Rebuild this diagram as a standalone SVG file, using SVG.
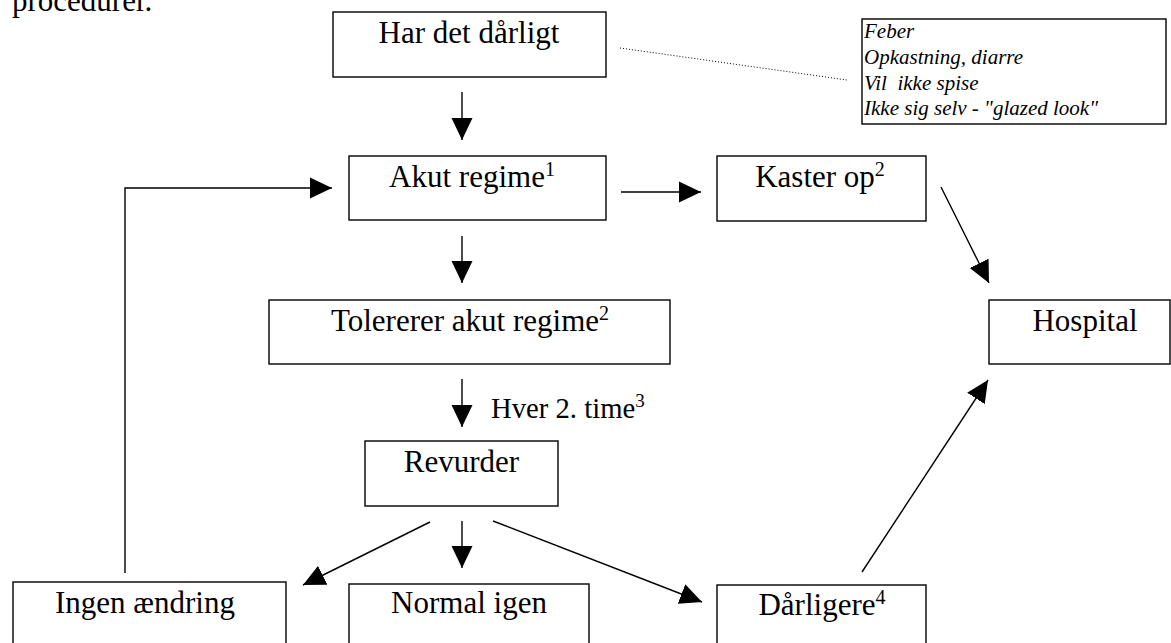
<svg xmlns="http://www.w3.org/2000/svg" width="1171" height="643" viewBox="0 0 1171 643">
<style>
.box{fill:#fff;stroke:#000;stroke-width:1.4}
.t{font-family:"Liberation Serif","Times New Roman",serif;font-size:31px;fill:#000}
.c{text-anchor:middle}
.sup{font-size:20px}
.note{font-family:"Liberation Serif","Times New Roman",serif;font-size:21px;font-style:italic;fill:#000}
.ln{fill:none;stroke:#000;stroke-width:1.4}
.arr{marker-end:url(#ah)}
.dot{fill:none;stroke:#000;stroke-width:1;stroke-dasharray:1 2}
</style>
<defs>
<marker id="ah" markerUnits="userSpaceOnUse" markerWidth="22" markerHeight="22" viewBox="0 0 22 22" refX="22" refY="11" orient="auto">
<path d="M0,0.5 L22,11 L0,21.5 Z" fill="#000"/>
</marker>
</defs>
<rect width="1171" height="643" fill="#fff"/>
<text class="t" x="12" y="11">procedurer.</text>
<g id="connectors">
<line class="ln arr" x1="462" y1="92" x2="462" y2="140"/>
<line class="ln arr" x1="462" y1="236" x2="462" y2="283"/>
<line class="ln arr" x1="462" y1="379" x2="462" y2="427"/>
<line class="ln arr" x1="621" y1="192" x2="701" y2="192"/>
<line class="ln arr" x1="941" y1="187" x2="989" y2="283"/>
<line class="ln arr" x1="430" y1="522" x2="303" y2="585"/>
<line class="ln arr" x1="462" y1="521" x2="462" y2="568"/>
<line class="ln arr" x1="493" y1="521" x2="702" y2="602"/>
<line class="ln arr" x1="862" y1="572" x2="988" y2="380"/>
<polyline class="ln arr" points="125,573 125,188 332,188"/>
<line class="dot" x1="620" y1="48" x2="847" y2="80"/>
<text class="t" x="491" y="418" style="font-size:28.7px">Hver 2. time<tspan class="sup" dy="-11" style="font-size:19px">3</tspan></text>
</g>
<g id="n-har"><rect class="box" x="333" y="12" width="273" height="65"/><text class="t c" x="469" y="43">Har det dårligt</text></g>
<g id="n-note"><rect class="box" x="862" y="19" width="304" height="105"/>
<text class="note" x="864" y="38">Feber</text>
<text class="note" x="864" y="64">Opkastning, diarre</text>
<text class="note" x="864" y="90">Vil&#160; ikke spise</text>
<text class="note" x="864" y="115">Ikke sig selv - "glazed look"</text></g>
<g id="n-akut"><rect class="box" x="349" y="156" width="257" height="64"/><text class="t c" x="472" y="187">Akut regime<tspan class="sup" dy="-11">1</tspan></text></g>
<g id="n-kaster"><rect class="box" x="717" y="156" width="209" height="65"/><text class="t c" x="820" y="187">Kaster op<tspan class="sup" dy="-11">2</tspan></text></g>
<g id="n-tol"><rect class="box" x="269" y="300" width="401" height="64"/><text class="t c" x="470" y="331">Tolererer akut regime<tspan class="sup" dy="-11">2</tspan></text></g>
<g id="n-hospital"><rect class="box" x="989" y="300" width="181" height="64"/><text class="t c" x="1085" y="331">Hospital</text></g>
<g id="n-revurder"><rect class="box" x="365" y="441" width="193" height="65"/><text class="t c" x="461.5" y="472">Revurder</text></g>
<g id="n-ingen"><rect class="box" x="13" y="582" width="273" height="80"/><text class="t c" x="145" y="613">Ingen ændring</text></g>
<g id="n-normal"><rect class="box" x="349" y="584" width="240" height="80"/><text class="t c" x="469" y="613">Normal igen</text></g>
<g id="n-darligere"><rect class="box" x="717" y="585" width="209" height="80"/><text class="t c" x="822" y="615">Dårligere<tspan class="sup" dy="-11">4</tspan></text></g>
</svg>
